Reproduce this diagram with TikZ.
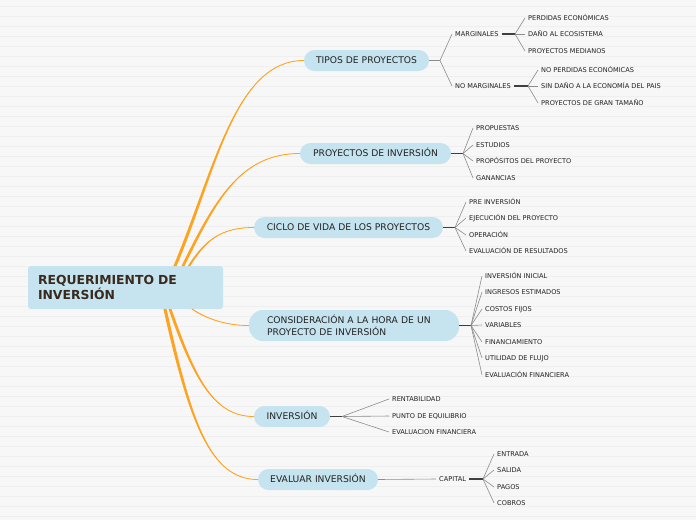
\documentclass[tikz,border=0pt]{standalone}
\usepackage{fontspec}
\setmainfont{DejaVu Sans}
\usetikzlibrary{calc}
\definecolor{paper}{HTML}{F7F7F7}
\definecolor{stripe}{HTML}{EFEFEF}
\definecolor{bubble}{HTML}{C6E4EF}
\definecolor{limb}{HTML}{FFA21F}
\definecolor{ink}{HTML}{222222}
\definecolor{rootink}{HTML}{3A2A1E}
\definecolor{twiggray}{HTML}{8C8C8C}
\definecolor{stemgray}{HTML}{3F3F3F}
% tapered orange branch: start, control 1, control 2, end, half width
\newcommand{\orangelimb}[5]{%
  \fill[limb] ($(#1)+(-#5,0)$) .. controls ($(#2)+(-#5,0)$) and (#3) .. (#4)
    .. controls (#3) and ($(#2)+(#5,0)$) .. ($(#1)+(#5,0)$) -- cycle;
  \draw[limb, line width=0.8pt] (#1) .. controls (#2) and (#3) .. (#4);}
\begin{document}
\begin{tikzpicture}[x=1pt, y=-1pt,
    bubblebox/.style={fill=bubble, text=ink, inner sep=0pt, font=\fontsize{9.2}{12}\selectfont},
    topic/.style={bubblebox, rounded corners=10.5pt, minimum height=21pt, text height=6.7pt, text depth=0pt},
    leaf/.style={anchor=west, inner xsep=3pt, inner ysep=1pt, text=ink, font=\fontsize{6.6}{8}\selectfont, text height=4.8pt, text depth=0pt},
    twig/.style={draw=twiggray, line width=0.6pt},
    stem/.style={draw=stemgray, line width=1.6pt}]
    % Paper with faint ruling
    \useasboundingbox (0,-1) rectangle (696,519);
    \fill[paper] (0,-1) rectangle (696,519);
    \foreach \y in {5,15,...,515} \draw[stripe, line width=1pt] (0,\y) -- (696,\y);
    % Central idea
    \node[fill=bubble, rounded corners=3pt, minimum width=195pt, minimum height=43pt, inner sep=0pt,
          text width=175pt, align=left, text=rootink, font=\bfseries\fontsize{12.4}{15}\selectfont]
          (root) at (125.5,286.5) {REQUERIMIENTO DE\\INVERSIÓN};
    % Main topics
    \node[topic, minimum width=125pt] (t1) at (366.5,59.5) {TIPOS DE PROYECTOS};
    \node[topic, minimum width=151pt] (t2) at (375.5,152.5) {PROYECTOS DE INVERSIÓN};
    \node[topic, minimum width=189pt] (t3) at (348.5,226.5) {CICLO DE VIDA DE LOS PROYECTOS};
    \node[bubblebox, rounded corners=14pt, minimum width=210pt, minimum height=31pt, text width=174pt, align=left]
          (t4) at (354,324.5) {CONSIDERACIÓN A LA HORA DE UN\\PROYECTO DE INVERSIÓN};
    \node[topic, minimum width=76pt] (t5) at (292,415.5) {INVERSIÓN};
    \node[topic, minimum width=120pt] (t6) at (318,478.5) {EVALUAR INVERSIÓN};
    % Orange branches from the root
    \coordinate (r1) at (175,265); \coordinate (r2) at (183,265); \coordinate (r3) at (189,265);
    \coordinate (r4) at (192,308); \coordinate (r5) at (170,308); \coordinate (r6) at (165,308);
    \orangelimb{r1}{215,170}{235,59.5}{t1.west}{1.6}
    \orangelimb{r2}{215,200}{240,152.5}{t2.west}{1.5}
    \orangelimb{r3}{205,240}{220,226.5}{t3.west}{1.2}
    \orangelimb{r4}{210,320}{230,324.5}{t4.west}{0.6}
    \orangelimb{r5}{195,380}{215,415.5}{t5.west}{1.5}
    \orangelimb{r6}{190,420}{210,478.5}{t6.west}{1.6}
    % Tipos de proyectos
    \coordinate (f1) at (440,59.5);
    \draw[twiggray, line width=1.6pt] (t1.east) -- (f1);
    \node[leaf] (marg) at (452,33) {MARGINALES};
    \node[leaf] (nomarg) at (452,85) {NO MARGINALES};
    \draw[twig] (f1) -- (marg.west);
    \draw[twig] (f1) -- (nomarg.west);
    \coordinate (fm) at (515,33);
    \draw[stem] (marg.east) -- (fm);
    \foreach \n/\y/\t in {a/17/PERDIDAS ECONÓMICAS, b/33/DAÑO AL ECOSISTEMA, c/50/PROYECTOS MEDIANOS} {
        \node[leaf] (m\n) at (525,\y) {\t};
        \draw[twig] (fm) -- (m\n.west);
    }
    \coordinate (fn) at (528,85);
    \draw[stem] (nomarg.east) -- (fn);
    \foreach \n/\y/\t in {a/69/NO PERDIDAS ECONÓMICAS, b/85/SIN DAÑO A LA ECONOMÍA DEL PAIS, c/102/PROYECTOS DE GRAN TAMAÑO} {
        \node[leaf] (n\n) at (538,\y) {\t};
        \draw[twig] (fn) -- (n\n.west);
    }
    % Proyectos de inversion
    \coordinate (f2) at (463,152.5);
    \draw[stem] (t2.east) -- (f2);
    \foreach \n/\y/\t in {a/127/PROPUESTAS, b/144/ESTUDIOS, c/160/PROPÓSITOS DEL PROYECTO, d/177/GANANCIAS} {
        \node[leaf] (p\n) at (473,\y) {\t};
        \draw[twig] (f2) -- (p\n.west);
    }
    % Ciclo de vida
    \coordinate (f3) at (455,226.5);
    \draw[stem] (t3.east) -- (f3);
    \foreach \n/\y/\t in {a/201/PRE INVERSIÓN, b/217/EJECUCIÓN DEL PROYECTO, c/234/OPERACIÓN, d/250/EVALUACIÓN DE RESULTADOS} {
        \node[leaf] (c\n) at (466,\y) {\t};
        \draw[twig] (f3) -- (c\n.west);
    }
    % Consideracion
    \coordinate (f4) at (471,324.5);
    \draw[stem] (t4.east) -- (f4);
    \foreach \n/\y/\t in {a/275/INVERSIÓN INICIAL, b/291/INGRESOS ESTIMADOS, c/308/COSTOS FIJOS, d/324/VARIABLES,
                          e/341/FINANCIAMIENTO, f/357/UTILIDAD DE FLUJO, g/374/EVALUACIÓN FINANCIERA} {
        \node[leaf] (k\n) at (482,\y) {\t};
        \draw[twig] (f4) -- (k\n.west);
    }
    % Inversion
    \coordinate (f5) at (342,415.5);
    \draw[stem] (t5.east) -- (f5);
    \foreach \n/\y/\t in {a/398/RENTABILIDAD, b/415/PUNTO DE EQUILIBRIO, c/431/EVALUACION FINANCIERA} {
        \node[leaf] (v\n) at (389,\y) {\t};
        \draw[twig] (f5) -- (v\n.west);
    }
    % Evaluar inversion
    \node[leaf] (capital) at (436,478) {CAPITAL};
    \draw[twig] (t6.east) -- (capital.west);
    \coordinate (f6) at (483,478);
    \draw[stem] (capital.east) -- (f6);
    \foreach \n/\y/\t in {a/453/ENTRADA, b/469/SALIDA, c/486/PAGOS, d/502/COBROS} {
        \node[leaf] (e\n) at (494,\y) {\t};
        \draw[twig] (f6) -- (e\n.west);
    }
\end{tikzpicture}
\end{document}
